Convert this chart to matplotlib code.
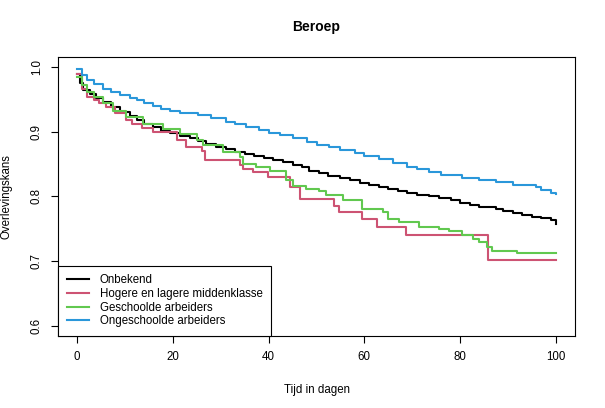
import matplotlib.pyplot as plt

plt.rcParams['font.family'] = ['Liberation Sans', 'DejaVu Sans']

# Kaplan-Meier schattingen per beroepsgroep
t_onbekend = [0, 0.5, 1.3, 2.7, 4, 5.4, 7, 9, 11, 12.5, 14, 15.8, 17.5, 19.4, 21.5, 23.5, 25.2, 27, 29,
              31, 33, 35, 37, 39, 41, 43, 45, 47, 48.5, 50.6, 52.5, 55, 57, 59, 61, 63, 65, 67, 69,
              71, 73.5, 75.6, 78, 80, 82, 84, 87.4, 89, 91, 93, 95, 97, 99, 100]
s_onbekend = [0.99, 0.975, 0.965, 0.958, 0.952, 0.946, 0.938, 0.931, 0.925, 0.918, 0.912, 0.907, 0.902,
              0.898, 0.894, 0.890, 0.886, 0.881, 0.877, 0.873, 0.869, 0.866, 0.862, 0.860, 0.857,
              0.853, 0.849, 0.845, 0.839, 0.836, 0.832, 0.829, 0.825, 0.821, 0.818, 0.815, 0.812,
              0.808, 0.805, 0.802, 0.800, 0.798, 0.794, 0.790, 0.787, 0.784, 0.780, 0.778, 0.775,
              0.772, 0.769, 0.766, 0.763, 0.758]

t_midden = [0, 1, 2, 3.5, 4.5, 6, 8, 10.3, 11.4, 13.5, 15.8, 20.8, 22.8, 26, 26.7, 34, 34.7, 36.7,
            39.8, 44.4, 46.5, 53.75, 54.8, 59.6, 62.7, 68.7, 85.8, 100]
s_midden = [0.99, 0.967, 0.954, 0.949, 0.944, 0.938, 0.930, 0.918, 0.912, 0.906, 0.900, 0.887, 0.876,
            0.871, 0.856, 0.848, 0.843, 0.838, 0.830, 0.814, 0.796, 0.786, 0.776, 0.765, 0.753,
            0.741, 0.702, 0.702]

t_geschoold = [0, 1, 2, 3.5, 5.4, 7.5, 10.3, 13.8, 18, 21.5, 25, 26.3, 30.4, 34, 34.7, 37.4, 40.2,
               43.7, 45, 47.8, 50.6, 52, 55.5, 59.6, 63.8, 64.9, 67.3, 71.5, 75.6, 77.7, 80.4, 82.6,
               84, 85.7, 86.7, 91.9, 100]
s_geschoold = [0.985, 0.972, 0.962, 0.954, 0.944, 0.933, 0.923, 0.913, 0.904, 0.897, 0.887, 0.879,
               0.869, 0.861, 0.851, 0.845, 0.840, 0.825, 0.817, 0.812, 0.808, 0.803, 0.794, 0.781,
               0.776, 0.765, 0.760, 0.753, 0.750, 0.746, 0.740, 0.734, 0.729, 0.722, 0.716, 0.712,
               0.712]

t_ongeschoold = [0, 1, 2, 3.5, 5.4, 7, 9, 11, 12.5, 14, 15.8, 17.5, 19.4, 21.5, 25.2, 28, 31, 33,
                 35.3, 38, 40, 42.3, 45, 48, 50, 52.7, 55, 58, 60, 63, 66, 69, 71, 73.5, 76, 80.4,
                 84, 87.4, 91, 95.8, 97, 99, 100]
s_ongeschoold = [0.997, 0.988, 0.980, 0.974, 0.967, 0.962, 0.957, 0.953, 0.949, 0.944, 0.940, 0.936,
                 0.933, 0.929, 0.926, 0.921, 0.916, 0.912, 0.907, 0.903, 0.899, 0.895, 0.890,
                 0.885, 0.880, 0.876, 0.872, 0.867, 0.863, 0.858, 0.852, 0.846, 0.842, 0.838,
                 0.834, 0.829, 0.825, 0.822, 0.818, 0.815, 0.810, 0.806, 0.804]

labels = ["Onbekend", "Hogere en lagere middenklasse", "Geschoolde arbeiders", "Ongeschoolde arbeiders"]
colors = ["black", "#CD5373", "#61C84F", "#2A97DA"]

fig = plt.figure(figsize=(6.05, 4.08), dpi=100)
ax = fig.add_axes([0.0959, 0.1765, 0.8545, 0.6838])

series = [(t_onbekend, s_onbekend), (t_midden, s_midden),
          (t_geschoold, s_geschoold), (t_ongeschoold, s_ongeschoold)]
for (t, s), lab, col in zip(series, labels, colors):
    ax.step(t, s, where='post', color=col, lw=1.5, label=lab)

ax.set_xlim(-4, 104)
ax.set_ylim(0.584, 1.016)
ax.set_xticks([0, 20, 40, 60, 80, 100])
ax.set_yticks([0.6, 0.7, 0.8, 0.9, 1.0])
ax.set_yticklabels(["0.6", "0.7", "0.8", "0.9", "1.0"], rotation=90, va='center')
ax.tick_params(direction='out', length=5, width=0.8, labelsize=8.3, pad=6)
for sp in ax.spines.values():
    sp.set_linewidth(0.8)

ax.set_title("Beroep", fontsize=10, fontweight='bold', pad=19)
ax.set_xlabel("Tijd in dagen", fontsize=8.3, labelpad=15)
ax.set_ylabel("Overlevingskans", fontsize=8.3, labelpad=13)

leg = ax.legend(loc='lower left', bbox_to_anchor=(0, 0), borderaxespad=0, fancybox=False,
                edgecolor='black', fontsize=8.3, handlelength=1.9, handletextpad=0.95,
                labelspacing=0.15, borderpad=0.75, framealpha=1)
leg.get_frame().set_linewidth(0.8)

fig.savefig("out.png", dpi=100)
